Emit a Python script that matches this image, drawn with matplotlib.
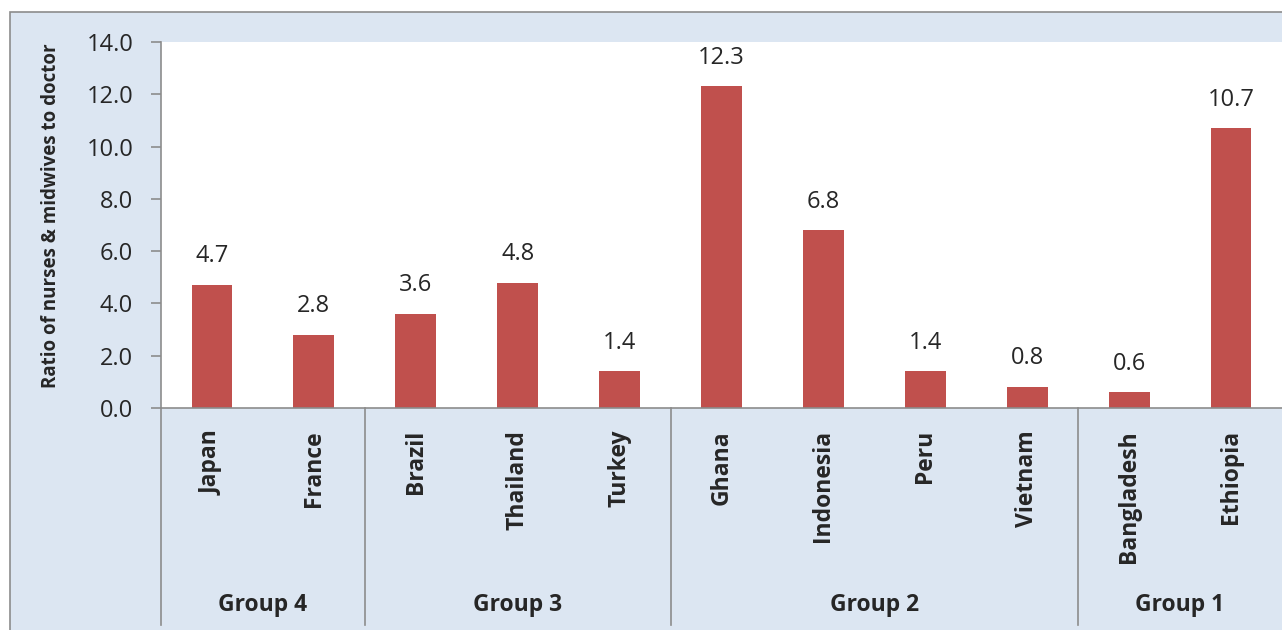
import matplotlib
matplotlib.use("Agg")
import matplotlib.pyplot as plt
from matplotlib.patches import Rectangle
import matplotlib.transforms as mtransforms

plt.rcParams['font.family'] = ['Open Sans', 'DejaVu Sans']

# data
countries = ["Japan", "France", "Brazil", "Thailand", "Turkey", "Ghana",
             "Indonesia", "Peru", "Vietnam", "Bangladesh", "Ethiopia"]
ratios = [4.7, 2.8, 3.6, 4.8, 1.4, 12.3, 6.8, 1.4, 0.8, 0.6, 10.7]
groups = ["Group 4", "Group 3", "Group 2", "Group 1"]
group_sizes = [2, 3, 4, 2]
yticks = [0, 2, 4, 6, 8, 10, 12, 14]

bar_col = "#c0504d"
bg_col = "#dce6f2"
line_col = "#8c8c8c"
txt_col = "#262626"

W, H = 1282, 630
fig = plt.figure(figsize=(W / 100, H / 100), dpi=100)
fig.patch.set_facecolor("white")
# light blue chart area with grey border
fig.patches.append(Rectangle((10 / W, -0.05), 1.1, (H - 12) / H + 0.05,
                             transform=fig.transFigure, facecolor=bg_col,
                             edgecolor=line_col, linewidth=1.2, zorder=-10))

ax = fig.add_axes([161 / W, (H - 408) / H, (W - 161) / W, 366 / H])
ax.set_zorder(5)
ax.set_facecolor("white")

x = list(range(len(countries)))
ax.bar(x, ratios, width=0.4, color=bar_col, zorder=2)
for xi, v in zip(x, ratios):
    ax.annotate(f"{v:.1f}", (xi, v), xytext=(0, 12), textcoords="offset points",
                ha="center", va="bottom", fontsize=17, color=txt_col)

ax.set_xlim(-0.5, len(countries) - 0.5)
ax.set_ylim(0, 14)
ax.set_yticks(yticks)
ax.set_yticklabels([f"{t:.1f}" for t in yticks], fontsize=17, color=txt_col)
ax.tick_params(axis="y", direction="out", length=7, width=1.2, color=line_col, pad=13)
ax.set_xticks([])
for s in ["top", "right"]:
    ax.spines[s].set_visible(False)
for s in ["left", "bottom"]:
    ax.spines[s].set_color(line_col)
    ax.spines[s].set_linewidth(1.2)

ax.set_ylabel("Ratio of nurses & midwives to doctor", fontsize=13.5,
              fontweight="bold", color=txt_col)
ax.yaxis.set_label_coords(-0.089, 0.525)

trans = mtransforms.blended_transform_factory(ax.transData, ax.transAxes)
for xi, name in zip(x, countries):
    ax.text(xi, -0.06, name, transform=trans, rotation=90, ha="center", va="top",
            fontsize=16.5, fontweight="bold", color=txt_col)

# group separators and group labels
start = 0
edges = [-0.5]
for g, n in zip(groups, group_sizes):
    mid = start + (n - 1) / 2
    ax.text(mid, -0.538, g, transform=trans, ha="center", va="center",
            fontsize=16.5, fontweight="bold", color=txt_col)
    start += n
    edges.append(start - 0.5)
for e in edges[:-1]:
    ax.plot([e, e], [0, -0.593], transform=trans, color=line_col, lw=1.2,
            clip_on=False)

fig.savefig("out.png", dpi=100)
